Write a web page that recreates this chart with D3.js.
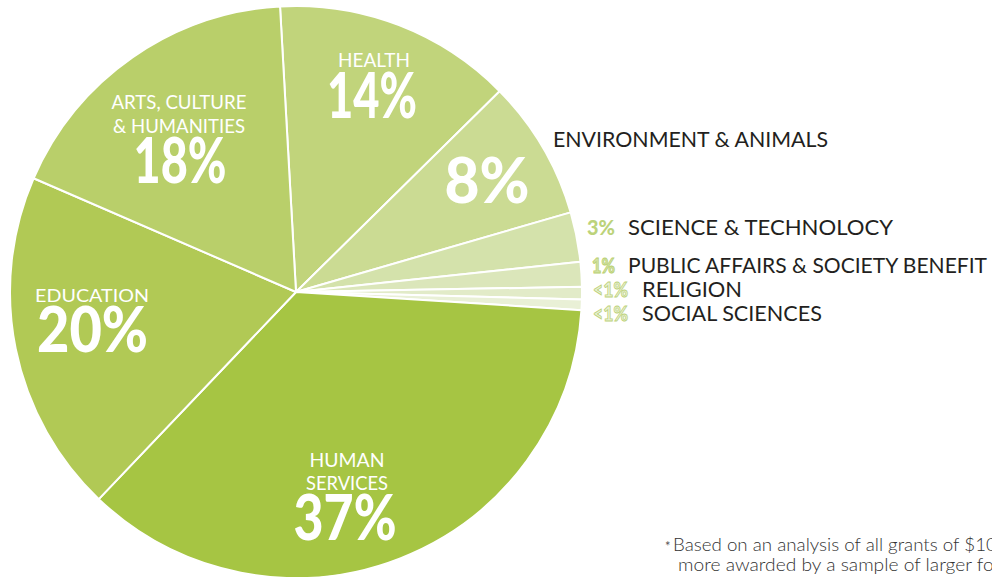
<!DOCTYPE html>
<html>
<head>
<meta charset="utf-8">
<script src="https://cdn.jsdelivr.net/npm/d3@7/dist/d3.min.js"></script>
<style>
  html, body { margin: 0; padding: 0; background: #fff; overflow: hidden; }
  svg { display: block; font-family: Lato, "Open Sans", sans-serif; }
</style>
</head>
<body>
<svg id="chart" width="992" height="577"></svg>
<script>
// ---- data ----
const categories = ["Health", "Environment & Animals", "Science & Technology",
  "Public Affairs & Society Benefit", "Religion", "Social Sciences",
  "Human Services", "Education", "Arts, Culture & Humanities"];
const shares = [13.5, 7.9, 2.8, 1.4, 0.7, 0.6, 36.1, 19.4, 17.6];
const percentLabels = ["14%", "8%", "3%", "1%", "<1%", "<1%", "37%", "20%", "18%"];
const nameLines = [["HEALTH"], ["ENVIRONMENT & ANIMALS"], ["SCIENCE & TECHNOLOCY"],
  ["PUBLIC AFFAIRS & SOCIETY BENEFIT"], ["RELIGION"], ["SOCIAL SCIENCES"],
  ["HUMAN", "SERVICES"], ["EDUCATION"], ["ARTS, CULTURE", "& HUMANITIES"]];
const footnoteLines = ["Based on an analysis of all grants of $10,000 or",
  "more awarded by a sample of larger foundations."];

// ---- styling ----
const colors = ["#c1d47b", "#cbdb93", "#d4e2ab", "#dbe6ba", "#e2ebc8", "#e9f0d6",
  "#a6c543", "#b1c955", "#b9cf6a"];
const cx = 296, cy = 292, R = 286;

const svg = d3.select("#chart");
const g = svg.append("g").attr("transform", `translate(${cx},${cy})`);

const pie = d3.pie().sort(null).value(d => d)
  .startAngle(-3.2 * Math.PI / 180)
  .endAngle(-3.2 * Math.PI / 180 + 2 * Math.PI);
const arc = d3.arc().innerRadius(0).outerRadius(R);
const arcs = pie(shares);

g.selectAll("path").data(arcs).enter().append("path")
  .attr("d", arc)
  .attr("fill", (d, i) => colors[i])
  .attr("stroke", "#fff")
  .attr("stroke-width", 2)
  .attr("stroke-linejoin", "round");

function fit(t, w) {
  t.attr("textLength", w).attr("lengthAdjust", "spacingAndGlyphs");
  return t;
}

const inside = [
  { i: 0, x: 374, ys: [67], ws: [72], size: 20, anchor: "middle", px: 372, py: 118, pw: 90 },
  { i: 8, x: 179, ys: [109, 133], ws: [135, 132], size: 20, anchor: "middle", px: 180, py: 183, pw: 93 },
  { i: 7, x: 35, ys: [302], ws: [114], size: 18, anchor: "start", px: 37, py: 352, pw: 111 },
  { i: 6, x: 347, ys: [467, 490], ws: [75, 82], size: 19, anchor: "middle", px: 345, py: 540, pw: 103 },
];
inside.forEach(L => {
  nameLines[L.i].forEach((line, k) => {
    fit(svg.append("text")
      .attr("x", L.x).attr("y", L.ys[k])
      .attr("text-anchor", L.anchor)
      .attr("fill", "#fff")
      .attr("font-size", L.size)
      .text(line), L.ws[k]);
  });
  fit(svg.append("text")
    .attr("x", L.px).attr("y", L.py)
    .attr("text-anchor", L.anchor)
    .attr("fill", "#fff")
    .attr("font-size", 62)
    .attr("font-weight", 900)
    .text(percentLabels[L.i]), L.pw);
});

fit(svg.append("text").attr("x", 487).attr("y", 203).attr("text-anchor", "middle")
  .attr("fill", "#fff").attr("font-size", 62).attr("font-weight", 900)
  .text(percentLabels[1]), 85);
fit(svg.append("text").attr("x", 553).attr("y", 147)
  .attr("fill", "#231f20").attr("font-size", 21)
  .text(nameLines[1][0]), 275);

const outside = [
  { i: 2, px: 587, pw: 28, x: 628, w: 265, y: 235, fill: "#bcd37a", stroke: "none" },
  { i: 3, px: 592, pw: 23, x: 628, w: 359, y: 273, fill: "#d3e2a6", stroke: "#b9d070" },
  { i: 4, px: 593, pw: 35, x: 642, w: 100, y: 297, fill: "#eaf1d6", stroke: "#bdd27a" },
  { i: 5, px: 593, pw: 35, x: 642, w: 180, y: 321, fill: "#eaf1d6", stroke: "#bdd27a" },
];
outside.forEach(L => {
  fit(svg.append("text").attr("x", L.px).attr("y", L.y)
    .attr("fill", L.fill).attr("stroke", L.stroke).attr("stroke-width", 0.9)
    .attr("font-size", 21).attr("font-weight", 900)
    .text(percentLabels[L.i]), L.pw);
  fit(svg.append("text").attr("x", L.x).attr("y", L.y)
    .attr("fill", "#231f20").attr("font-size", 21)
    .text(nameLines[L.i][0]), L.w);
});

// footnote, scaled so that its visible part matches the reference width
svg.append("text").attr("x", 665).attr("y", 551).attr("fill", "#555")
  .attr("font-size", 13).text("*");
function footLine(x, y, str, prefixChars, prefixWidth) {
  const t = svg.append("text").attr("x", x).attr("y", y).attr("fill", "#333")
    .attr("font-size", 18).attr("font-weight", 300).text(str);
  const node = t.node();
  const full = node.getComputedTextLength();
  const pre = node.getSubStringLength(0, prefixChars);
  t.attr("textLength", full * prefixWidth / pre).attr("lengthAdjust", "spacingAndGlyphs");
}
footLine(673, 551, footnoteLines[0], "Based on an analysis of all grants of $1".length, 313);
footLine(678, 571, footnoteLines[1], "more awarded by a sample of larger f".length, 305);
</script>
</body>
</html>
